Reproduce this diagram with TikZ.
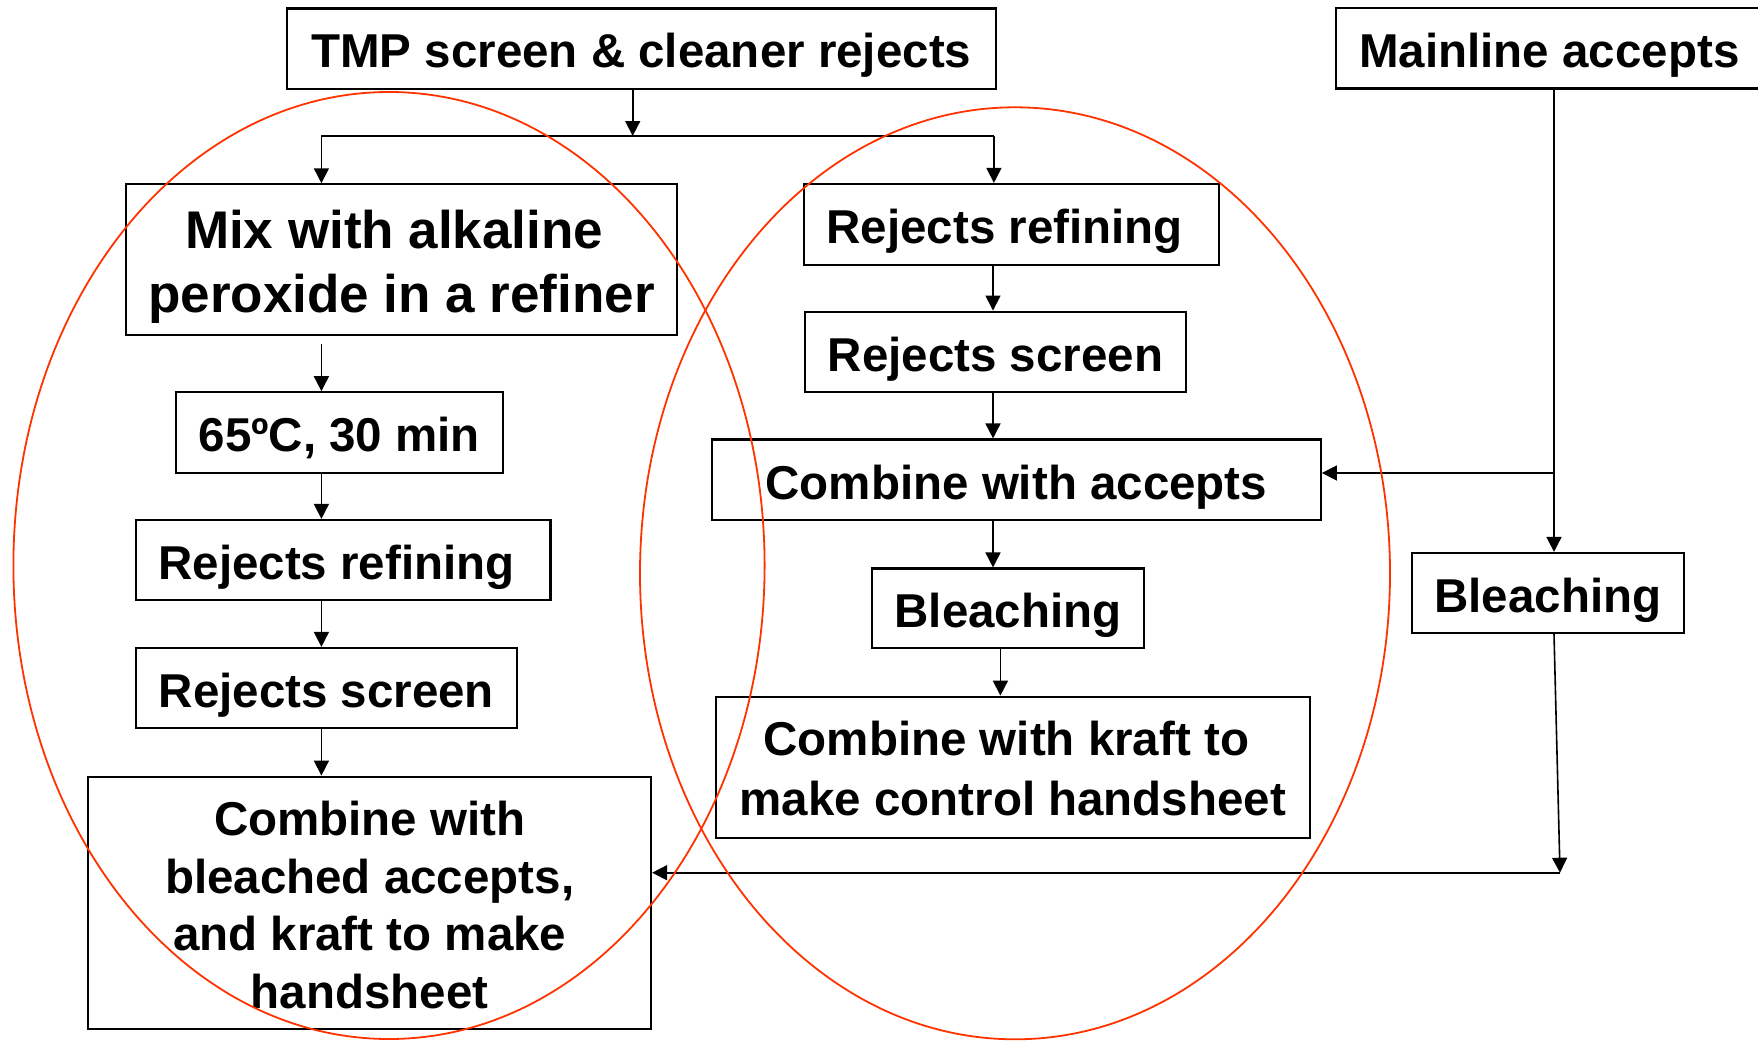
\documentclass[tikz,border=0pt]{standalone}
\usepackage{fontspec}
\setmainfont{Liberation Sans}
\usetikzlibrary{arrows.meta}
\definecolor{ellred}{RGB}{255,51,0}
\newcommand{\nodepth}[1]{\raisebox{0pt}[\height][0pt]{#1}}
\begin{document}
\begin{tikzpicture}[x=1pt,y=-1pt,
  box/.style={draw=black,line width=2.2pt,inner sep=0pt,align=center,
    font=\bfseries\fontsize{47.5}{57}\selectfont},
  oneline/.style={text height=38.4pt,text depth=0pt},
  arr/.style={line width=1.6pt,-{Triangle[length=15pt,width=15pt]}},
  conn/.style={line width=1.6pt},
  ring/.style={draw=ellred,line width=1.8pt}]
\useasboundingbox (0,0) rectangle (1758,1041);
\fill[white] (0,0) rectangle (1758,1041);

% boxes
\node[box,oneline,minimum width=709.2pt,minimum height=80.5pt] (tmp) at (641.3,48.75) {TMP screen \& cleaner rejects};
\node[box,oneline,minimum width=427.3pt,minimum height=80.1pt] (main) at (1549.4,48.4) {Mainline accepts};
\node[box,minimum width=551pt,minimum height=150.7pt,font=\bfseries\fontsize{53}{64}\selectfont] (mix) at (401.5,259.7)
  {\rule{0pt}{42.4pt}Mix with alkaline\kern0.278em\\\nodepth{peroxide in a refiner}};
\node[box,oneline,minimum width=326.8pt,minimum height=80.4pt] (t65) at (339.3,432.5) {65ºC, 30 min};
\node[box,oneline,minimum width=414.8pt,minimum height=80pt] (rrL) at (343.1,560) {Rejects refining\kern0.278em};
\node[box,oneline,minimum width=381.3pt,minimum height=79.6pt] (rsL) at (326.4,687.8) {Rejects screen};
\node[box,minimum width=562.7pt,minimum height=252.6pt,font=\bfseries\fontsize{47.5}{57.4}\selectfont] (cbL) at (369.7,903)
  {\rule{0pt}{38.4pt}Combine with\\bleached accepts,\\and kraft to make\\handsheet};
\node[box,oneline,minimum width=414.7pt,minimum height=80.6pt] (rrR) at (1011.4,224.3) {Rejects refining\kern0.278em};
\node[box,oneline,minimum width=381pt,minimum height=80.7pt] (rsR) at (995.5,352) {Rejects screen};
\node[box,oneline,minimum width=608.8pt,minimum height=80.7pt] (cacc) at (1016.4,479.9) {Combine with accepts};
\node[box,oneline,minimum width=271.3pt,minimum height=79.5pt] (blM) at (1008,608.3) {Bleaching};
\node[box,minimum width=593.8pt,minimum height=141pt,font=\bfseries\fontsize{47.5}{60}\selectfont] (kraft) at (1012.9,767.2)
  {\rule{0pt}{36.5pt}Combine with kraft to\kern0.278em\\make control handsheet};
\node[box,oneline,minimum width=272.3pt,minimum height=80pt] (blR) at (1547.9,593) {Bleaching};

% connectors
\coordinate (jt) at (632.7,136);
\coordinate (jl) at (321.4,136);
\coordinate (jr) at (993.9,136);
\draw[arr] (tmp.south -| jt) -- (jt);
\draw[conn] (jl) -- (jr);
\draw[arr] (jl) -- (jl |- mix.north);
\draw[arr] (jr) -- (jr |- rrR.north);
\coordinate (m1) at (321.4,344.3);
\draw[arr] (m1) -- (m1 |- t65.north);
\draw[arr] (t65.south -| m1) -- (rrL.north -| m1);
\draw[arr] (rrL.south -| m1) -- (rsL.north -| m1);
\draw[arr] (rsL.south -| m1) -- (cbL.north -| m1);
\coordinate (cr) at (993,300);
\draw[arr] (rrR.south -| cr) -- (rsR.north -| cr);
\draw[arr] (rsR.south -| cr) -- (cacc.north -| cr);
\draw[arr] (cacc.south -| cr) -- (blM.north -| cr);
\coordinate (cb) at (1000.4,660);
\draw[arr] (blM.south -| cb) -- (kraft.north -| cb);
\coordinate (mj) at (1554,473);
\draw[arr] (main.south -| mj) -- (blR.north -| mj);
\draw[arr] (mj) -- (cacc.east |- mj);
\coordinate (bj) at (1560,872.7);
\draw[arr] (blR.south -| mj) -- (bj);
\draw[arr] (bj) -- (cbL.east |- bj);

% red ellipses
\draw[ring] (389,565.5) ellipse [x radius=375.6pt, y radius=473.5pt];
\draw[ring] (1015,573.3) ellipse [x radius=375pt, y radius=466pt];
\end{tikzpicture}
\end{document}
